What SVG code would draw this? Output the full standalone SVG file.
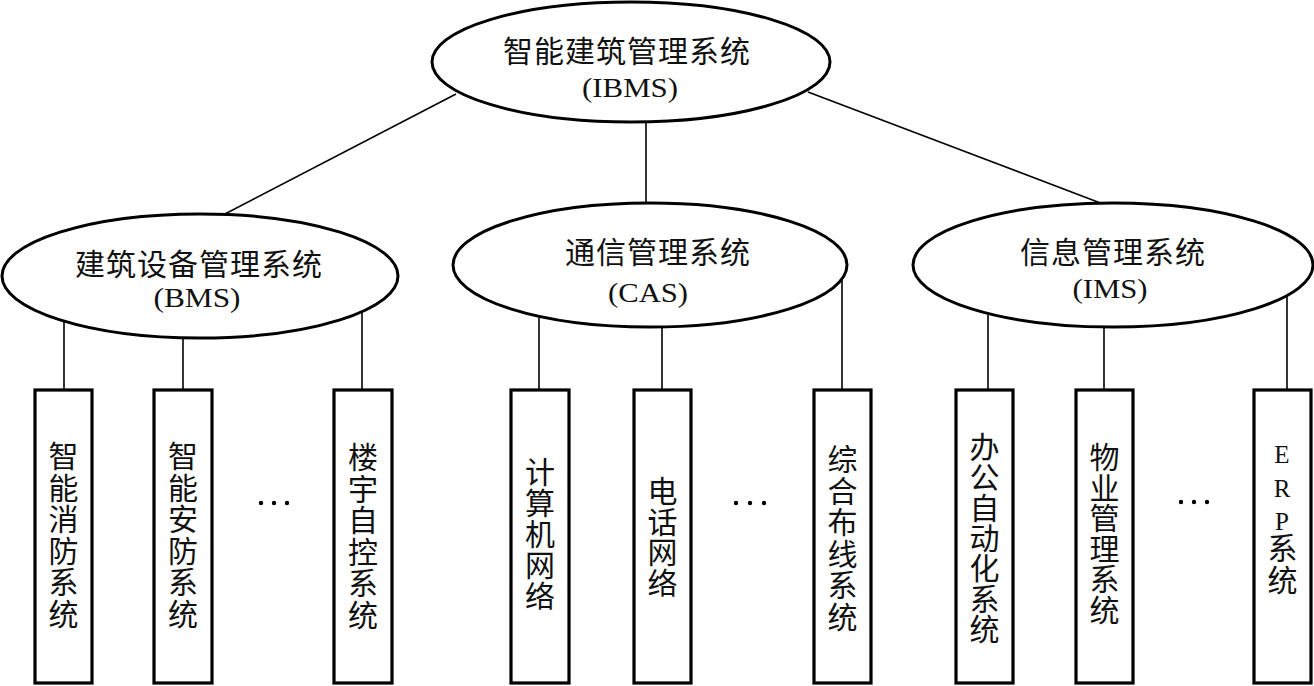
<svg xmlns="http://www.w3.org/2000/svg" width="1314" height="686" viewBox="0 0 1314 686">
<style>
.ell{fill:#fff;stroke:#000;stroke-width:3}
.box{fill:#fff;stroke:#000;stroke-width:3.2}
.con line{stroke:#000;stroke-width:1.6}
.cjk{font-family:"Noto Sans CJK SC","Noto Sans CJK JP",sans-serif;font-size:30px;fill:#111;text-anchor:middle}
.hd{letter-spacing:1px}
.lat{font-family:"Liberation Serif",serif;font-size:27px;fill:#111;text-anchor:middle}
.erp{font-family:"Liberation Serif",serif;font-size:25px;fill:#111;text-anchor:middle}
.dot{fill:#000}
</style>
<rect width="1314" height="686" fill="#fff"/>
<g id="connectors" class="con">
<line x1="456" y1="94" x2="223" y2="215"/>
<line x1="646" y1="118" x2="646" y2="205"/>
<line x1="808" y1="92" x2="1103" y2="204"/>
<line x1="64" y1="318" x2="64" y2="390"/>
<line x1="183" y1="334" x2="183" y2="390"/>
<line x1="362" y1="309" x2="362" y2="390"/>
<line x1="539" y1="312" x2="539" y2="390"/>
<line x1="662" y1="324" x2="662" y2="390"/>
<line x1="842" y1="276" x2="842" y2="390"/>
<line x1="988" y1="309" x2="988" y2="390"/>
<line x1="1104" y1="324" x2="1104" y2="390"/>
<line x1="1287" y1="292" x2="1287" y2="390"/>
</g>
<g id="ibms">
<ellipse class="ell" cx="631" cy="62" rx="199" ry="60"/>
<text class="cjk hd" x="627" y="62">智能建筑管理系统</text>
<text class="lat" x="630" y="97" textLength="96" lengthAdjust="spacingAndGlyphs">(IBMS)</text>
</g>
<g id="bms">
<ellipse class="ell" cx="200" cy="276" rx="198" ry="62"/>
<text class="cjk hd" x="199" y="275">建筑设备管理系统</text>
<text class="lat" x="197" y="307" textLength="87" lengthAdjust="spacingAndGlyphs">(BMS)</text>
</g>
<g id="cas">
<ellipse class="ell" cx="650" cy="265" rx="197" ry="62"/>
<text class="cjk hd" x="658" y="263">通信管理系统</text>
<text class="lat" x="648" y="302" textLength="80" lengthAdjust="spacingAndGlyphs">(CAS)</text>
</g>
<g id="ims">
<ellipse class="ell" cx="1113" cy="265" rx="200" ry="62"/>
<text class="cjk hd" x="1113" y="263">信息管理系统</text>
<text class="lat" x="1110" y="298" textLength="75" lengthAdjust="spacingAndGlyphs">(IMS)</text>
</g>
<g id="n1">
<rect class="box" x="35" y="390" width="57" height="293"/>
<text class="cjk"><tspan x="63.5" y="467">智</tspan><tspan x="63.5" y="498.5">能</tspan><tspan x="63.5" y="530">消</tspan><tspan x="63.5" y="561.5">防</tspan><tspan x="63.5" y="593">系</tspan><tspan x="63.5" y="624.5">统</tspan></text>
</g>
<g id="n2">
<rect class="box" x="154" y="390" width="58" height="293"/>
<text class="cjk"><tspan x="183" y="467">智</tspan><tspan x="183" y="498.5">能</tspan><tspan x="183" y="530">安</tspan><tspan x="183" y="561.5">防</tspan><tspan x="183" y="593">系</tspan><tspan x="183" y="624.5">统</tspan></text>
</g>
<g id="dots1">
<circle class="dot" cx="261" cy="503" r="2.2"/><circle class="dot" cx="274" cy="503" r="2.2"/><circle class="dot" cx="287" cy="503" r="2.2"/>
</g>
<g id="n3">
<rect class="box" x="334" y="390" width="58" height="293"/>
<text class="cjk"><tspan x="363" y="468">楼</tspan><tspan x="363" y="499.5">宇</tspan><tspan x="363" y="531">自</tspan><tspan x="363" y="562.5">控</tspan><tspan x="363" y="594">系</tspan><tspan x="363" y="625.5">统</tspan></text>
</g>
<g id="n4">
<rect class="box" x="511" y="390" width="58" height="293"/>
<text class="cjk"><tspan x="540" y="483">计</tspan><tspan x="540" y="514">算</tspan><tspan x="540" y="545">机</tspan><tspan x="540" y="576">网</tspan><tspan x="540" y="607">络</tspan></text>
</g>
<g id="n5">
<rect class="box" x="634" y="390" width="57" height="293"/>
<text class="cjk"><tspan x="662.5" y="502">电</tspan><tspan x="662.5" y="532.5">话</tspan><tspan x="662.5" y="563">网</tspan><tspan x="662.5" y="593.5">络</tspan></text>
</g>
<g id="dots2">
<circle class="dot" cx="736" cy="503" r="2.2"/><circle class="dot" cx="750" cy="503" r="2.2"/><circle class="dot" cx="764" cy="503" r="2.2"/>
</g>
<g id="n6">
<rect class="box" x="814" y="390" width="57" height="293"/>
<text class="cjk"><tspan x="842.5" y="470">综</tspan><tspan x="842.5" y="501.5">合</tspan><tspan x="842.5" y="533">布</tspan><tspan x="842.5" y="564.5">线</tspan><tspan x="842.5" y="596">系</tspan><tspan x="842.5" y="627.5">统</tspan></text>
</g>
<g id="n7">
<rect class="box" x="956" y="390" width="57" height="293"/>
<text class="cjk"><tspan x="984.5" y="458">办</tspan><tspan x="984.5" y="488.3">公</tspan><tspan x="984.5" y="518.6">自</tspan><tspan x="984.5" y="548.9">动</tspan><tspan x="984.5" y="579.2">化</tspan><tspan x="984.5" y="609.5">系</tspan><tspan x="984.5" y="639.8">统</tspan></text>
</g>
<g id="n8">
<rect class="box" x="1076" y="390" width="57" height="293"/>
<text class="cjk"><tspan x="1104.5" y="468">物</tspan><tspan x="1104.5" y="498.6">业</tspan><tspan x="1104.5" y="529.2">管</tspan><tspan x="1104.5" y="559.8">理</tspan><tspan x="1104.5" y="590.4">系</tspan><tspan x="1104.5" y="621">统</tspan></text>
</g>
<g id="dots3">
<circle class="dot" cx="1181" cy="502" r="2.2"/><circle class="dot" cx="1194" cy="502" r="2.2"/><circle class="dot" cx="1207" cy="502" r="2.2"/>
</g>
<g id="n9">
<rect class="box" x="1254" y="390" width="57" height="293"/>
<text class="erp"><tspan x="1282" y="463">E</tspan><tspan x="1282" y="497">R</tspan><tspan x="1282" y="530">P</tspan></text>
<text class="cjk"><tspan x="1282.5" y="559">系</tspan><tspan x="1282.5" y="591">统</tspan></text>
</g>
</svg>
